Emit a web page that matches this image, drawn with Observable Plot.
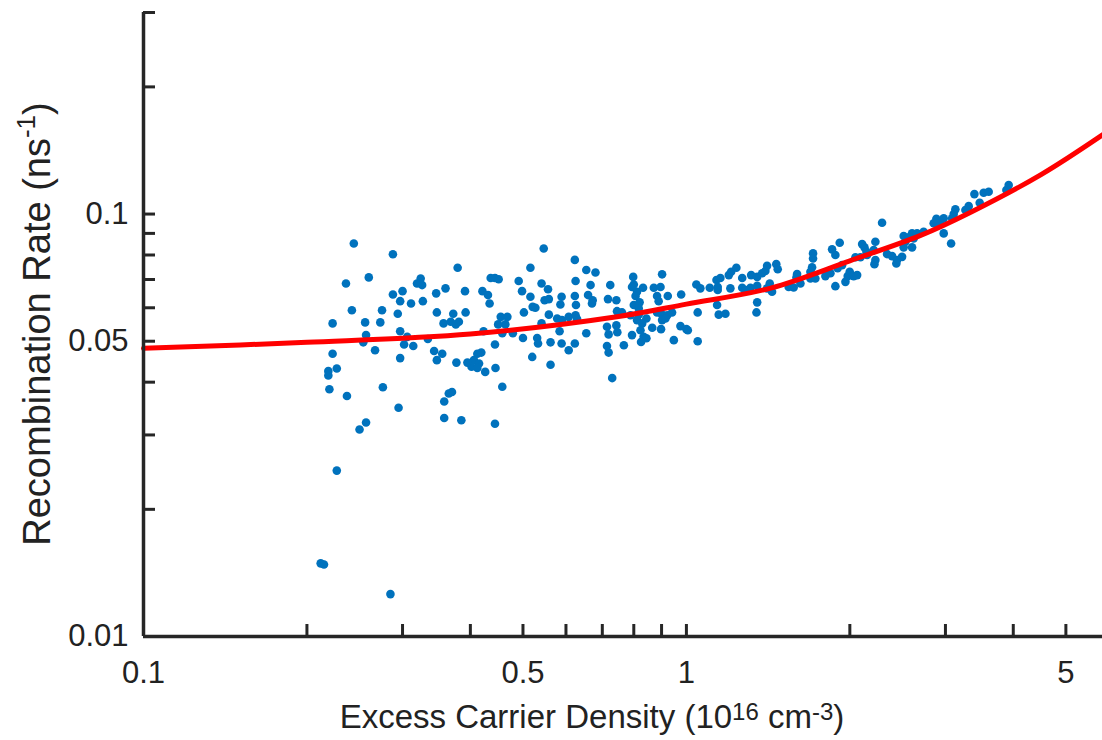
<!DOCTYPE html>
<html>
<head>
<meta charset="utf-8">
<script src="https://cdn.jsdelivr.net/npm/d3@7"></script>
<script src="https://cdn.jsdelivr.net/npm/@observablehq/plot@0.6"></script>
<style>
  html, body { margin: 0; padding: 0; background: #fff; }
  svg { display: block; }
</style>
</head>
<body>
<div id="chart"></div>
<script>
// Excess carrier density (10^16 cm^-3) of each measured point
const density = [
  0.244,0.288,0.379,0.236,0.260,0.324,0.319,0.326,0.300,0.288,0.346,0.360,0.297,0.311,0.327,0.242,0.275,0.294,0.347,0.372,
  0.357,0.368,0.376,0.381,0.223,0.256,0.273,0.297,0.257,0.254,0.306,0.302,0.314,0.334,0.223,0.267,0.297,0.343,0.355,0.347,
  0.377,0.227,0.219,0.219,0.220,0.276,0.237,0.365,0.370,0.358,0.295,0.257,0.250,0.358,0.227,0.212,0.215,0.285,
  0.546,0.516,0.623,0.436,0.444,0.451,0.491,0.541,0.654,0.680,0.625,0.666,0.724,0.391,0.421,0.431,0.498,0.556,0.434,0.516,
  0.548,0.558,0.589,0.586,0.623,0.626,0.659,0.672,0.670,0.717,0.392,0.502,0.521,0.527,0.558,0.455,0.468,0.464,0.450,0.578,
  0.590,0.607,0.625,0.629,0.423,0.479,0.458,0.541,0.584,0.500,0.531,0.533,0.562,0.589,0.623,0.607,0.654,0.714,0.719,0.714,
  0.719,0.444,0.419,0.412,0.406,0.415,0.402,0.412,0.426,0.395,0.445,0.520,0.562,0.458,0.730,0.385,0.444,
  0.902,0.798,0.800,0.794,0.811,0.832,0.806,0.871,0.896,0.883,0.889,0.924,0.978,0.743,0.800,0.820,0.817,0.745,0.761,0.789,
  0.817,0.811,0.883,0.902,0.922,0.941,0.902,0.915,0.844,0.829,0.823,0.743,0.746,0.865,0.898,0.794,0.834,0.825,0.844,0.767,
  0.975,1.000,1.006,0.948,1.049,1.049,1.043,1.061,1.104,1.142,1.136,1.155,1.142,1.205,1.267,1.285,1.312,1.197,1.209,1.236,
  1.267,1.316,1.350,1.379,1.408,1.398,1.350,1.408,1.139,1.147,1.180,1.350,1.346,
  2.293,1.916,1.855,1.881,1.711,1.711,1.464,1.473,1.599,1.595,1.704,1.692,1.543,1.576,1.622,1.692,1.728,1.803,1.842,1.424,
  1.438,1.881,1.963,1.999,1.982,2.033,2.063,1.899,1.935,2.107,2.128,2.146,2.092,2.048,2.152,2.229,2.213,2.229,2.220,2.342,
  2.392,2.443,2.496,2.513,2.531,2.604,2.622,2.660,2.604,2.436,
  3.923,3.885,3.392,3.528,3.604,3.469,3.311,3.265,3.129,3.107,3.086,2.978,2.887,2.854,2.937,2.978,3.073,2.735,2.513,2.567
];
// Recombination rate (ns^-1) of each measured point
const rate = [
  0.0852,0.0803,0.0746,0.0685,0.0708,0.0704,0.0685,0.0679,0.0657,0.0645,0.0649,0.0667,0.0622,0.0614,0.0622,0.0592,0.0592,0.0581,0.0585,0.0581,
  0.0551,0.0556,0.0548,0.0556,0.0551,0.0554,0.0554,0.0528,0.0517,0.0497,0.0512,0.0491,0.0487,0.0506,0.0467,0.0476,0.0456,0.0474,0.0467,0.0451,
  0.0445,0.0431,0.0425,0.0415,0.0385,0.0389,0.0371,0.0376,0.0379,0.0360,0.0348,0.0321,0.0309,0.0329,0.0247,0.0149,0.0148,0.0126,
  0.0829,0.0746,0.0779,0.0706,0.0706,0.0701,0.0694,0.0685,0.0737,0.0727,0.0694,0.0679,0.0679,0.0657,0.0657,0.0643,0.0657,0.0664,0.0614,0.0637,
  0.0625,0.0629,0.0637,0.0611,0.0640,0.0609,0.0643,0.0625,0.0614,0.0629,0.0585,0.0585,0.0603,0.0600,0.0578,0.0571,0.0571,0.0548,0.0548,0.0566,
  0.0561,0.0571,0.0576,0.0564,0.0528,0.0522,0.0522,0.0551,0.0528,0.0509,0.0509,0.0494,0.0497,0.0494,0.0494,0.0476,0.0522,0.0541,0.0519,0.0487,
  0.0470,0.0491,0.0470,0.0467,0.0451,0.0443,0.0435,0.0432,0.0423,0.0445,0.0432,0.0459,0.0440,0.0390,0.0409,0.0325,0.0319,
  0.0720,0.0710,0.0681,0.0672,0.0655,0.0669,0.0640,0.0669,0.0672,0.0640,0.0622,0.0640,0.0645,0.0625,0.0609,0.0618,0.0598,0.0589,0.0585,0.0576,
  0.0578,0.0561,0.0585,0.0578,0.0576,0.0585,0.0561,0.0566,0.0566,0.0551,0.0531,0.0545,0.0525,0.0538,0.0534,0.0517,0.0512,0.0498,0.0508,0.0489,
  0.0543,0.0534,0.0531,0.0503,0.0500,0.0585,0.0681,0.0667,0.0669,0.0672,0.0698,0.0706,0.0661,0.0667,0.0669,0.0661,0.0669,0.0717,0.0730,0.0746,
  0.0706,0.0717,0.0710,0.0724,0.0754,0.0733,0.0676,0.0667,0.0609,0.0578,0.0581,0.0618,0.0585,
  0.0954,0.0855,0.0825,0.0800,0.0807,0.0785,0.0761,0.0740,0.0721,0.0708,0.0748,0.0730,0.0672,0.0670,0.0685,0.0704,0.0704,0.0713,0.0724,0.0685,
  0.0655,0.0675,0.0691,0.0730,0.0713,0.0713,0.0717,0.0744,0.0757,0.0849,0.0834,0.0814,0.0790,0.0790,0.0800,0.0860,0.0822,0.0778,0.0761,0.0804,
  0.0795,0.0778,0.0792,0.0834,0.0860,0.0900,0.0876,0.0900,0.0834,0.0764,
  0.1171,0.1140,0.1115,0.1123,0.1129,0.1064,0.1044,0.1022,0.1026,0.1000,0.0977,0.0977,0.0975,0.0951,0.0947,0.0900,0.0852,0.0908,0.0887,0.0881
];
// Fitted curve
const fitDensity = [0.1, 0.2, 0.4, 0.75, 1.0, 1.43, 2.0, 2.7, 3.34, 4.5, 5.84];
const fitRate    = [0.0481, 0.0497, 0.0520, 0.0572, 0.0612, 0.0668, 0.0775, 0.0890, 0.1010, 0.1240, 0.1540];

const xTicks = [0.1, 0.2, 0.3, 0.4, 0.5, 0.6, 0.7, 0.8, 0.9, 1, 2, 3, 4, 5];
const xTickLabels = [0.1, 0.5, 1, 5];
const yTicks = [0.01, 0.02, 0.03, 0.04, 0.05, 0.06, 0.07, 0.08, 0.09, 0.1, 0.2, 0.3];
const yTickLabels = [0.01, 0.05, 0.1];

const points = density.map((d, i) => ({density: d, rate: rate[i]}));
const fit = fitDensity.map((d, i) => ({density: d, rate: fitRate[i]}));

const axisColor = "#262626";
const textColor = "#222222";
const font = "'Liberation Sans', Arial, Helvetica, sans-serif";

const chart = Plot.plot({
  width: 1102,
  height: 740,
  marginLeft: 143,
  marginRight: 0,
  marginTop: 12,
  marginBottom: 104,
  style: {fontFamily: font, background: "#fff", overflow: "visible"},
  x: {type: "log", domain: [0.1, 5.84]},
  y: {type: "log", domain: [0.01, 0.3]},
  marks: [
    Plot.dot(points, {x: "density", y: "rate", r: 4.3, fill: "#0072BD", stroke: "none"}),
    Plot.line(fit, {x: "density", y: "rate", stroke: "#ff0000", strokeWidth: 5, curve: "catmull-rom"}),
    Plot.ruleY([0.01], {stroke: axisColor, strokeWidth: 3.5}),
    Plot.ruleX([0.1], {stroke: axisColor, strokeWidth: 3.5}),
    Plot.axisX(xTicks, {tickSize: -12, strokeWidth: 3, stroke: axisColor, tickFormat: () => "", label: null}),
    Plot.axisY(yTicks, {tickSize: -12, strokeWidth: 3, stroke: axisColor, tickFormat: () => "", label: null}),
    Plot.axisX(xTickLabels, {tickSize: 0, tickPadding: 24, fontSize: 31, fill: textColor, tickFormat: d => `${d}`, label: null}),
    Plot.axisY(yTickLabels, {tickSize: 0, tickPadding: 15, fontSize: 31, fill: textColor, tickFormat: d => `${d}`, label: null})
  ]
});

const svg = d3.select(chart);
const yt = svg.append("text")
  .attr("transform", "translate(50,324) rotate(-90)")
  .attr("text-anchor", "middle")
  .attr("font-size", 38)
  .attr("fill", textColor);
yt.append("tspan").text("Recombination Rate (ns");
yt.append("tspan").attr("font-size", 26).attr("dy", -15).text("-1");
yt.append("tspan").attr("dy", 15).text(")");

const xt = svg.append("text")
  .attr("x", 592)
  .attr("y", 728)
  .attr("text-anchor", "middle")
  .attr("font-size", 33)
  .attr("fill", textColor);
xt.append("tspan").text("Excess Carrier Density (10");
xt.append("tspan").attr("font-size", 24).attr("dy", -8).text("16");
xt.append("tspan").attr("dy", 8).text(" cm");
xt.append("tspan").attr("font-size", 24).attr("dy", -8).text("-3");
xt.append("tspan").attr("dy", 8).text(")");

document.getElementById("chart").appendChild(chart);
</script>
</body>
</html>
